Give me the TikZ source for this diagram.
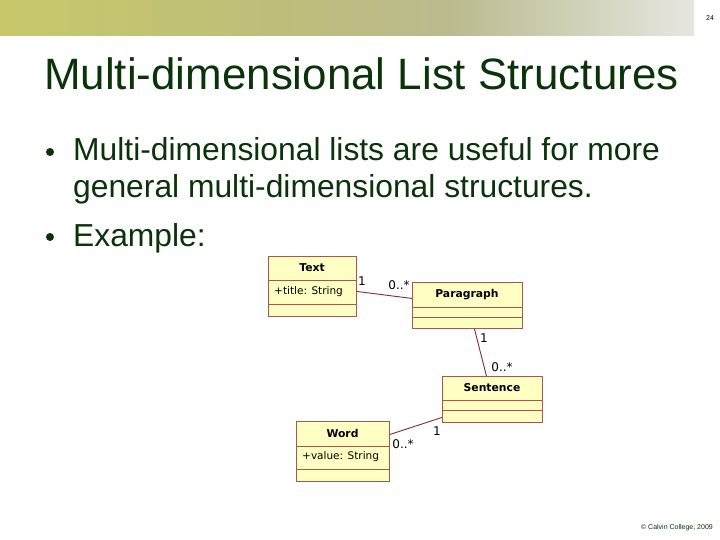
\documentclass[tikz,border=0pt]{standalone}
\usepackage{fontspec}
\setmainfont{Liberation Sans}
\newfontfamily\umlfont{DejaVu Sans}
\definecolor{slidegreen}{HTML}{0A330A}
\definecolor{umlfill}{HTML}{FFFFC4}
\definecolor{umledge}{HTML}{A8584A}
\definecolor{umlline}{HTML}{8A2A2A}
\definecolor{barA}{HTML}{C8C86A}
\definecolor{barB}{HTML}{BDBD7C}
\definecolor{barC}{HTML}{BABA8E}
\definecolor{barD}{HTML}{E6E6E0}
\tikzset{
  umlbox/.style={draw=umledge, fill=umlfill, line width=0.9pt, inner sep=0pt, minimum width=#1},
  sep/.style={draw=umledge, line width=0.9pt},
  umlname/.style={font=\umlfont\bfseries\fontsize{10.8}{12}\selectfont, text=black, inner sep=0pt},
  umlattr/.style={font=\umlfont\fontsize{10.5}{12}\selectfont, text=black, inner sep=0pt, anchor=west},
  mult/.style={font=\umlfont\fontsize{12}{14}\selectfont, text=black, inner sep=0pt},
  assoc/.style={draw=umlline, line width=0.9pt},
  bodytext/.style={font=\fontsize{31.8}{36}\selectfont, text=slidegreen, inner sep=0pt, anchor=base west},
  bulletdot/.style={circle, fill=slidegreen, inner sep=0pt, minimum size=8pt}
}
\begin{document}
\begin{tikzpicture}[x=1pt,y=-1pt]
\useasboundingbox (0,0) rectangle (720,540);
\fill[white] (0,0) rectangle (720,540);
% header bar
\shade[left color=barA, right color=barB] (0,0) rectangle (300.5,36);
\shade[left color=barB, right color=barC] (300,0) rectangle (450.5,36);
\shade[left color=barC, right color=barD] (450,0) rectangle (694,36);
\node[font=\fontsize{7}{8}\selectfont, inner sep=0pt] (pagenum) at (710,18) {24};
% title
\node[font=\fontsize{43.9}{48}\selectfont, text=slidegreen, inner sep=0pt, anchor=base west] (title) at (44,90) {Multi-dimensional List Structures};
% bullets
\node[bulletdot] (b1) at (50,152) {};
\node[bodytext] (t1) at (73,161) {Multi-dimensional lists are useful for more};
\node[bodytext] (t2) at (73,197) {general multi-dimensional structures.};
\node[bulletdot] (b2) at (50,237) {};
\node[bodytext] (t3) at (73,246) {Example:};
% UML: Text
\node[umlbox=88pt, minimum height=60pt, anchor=north west] (textc) at (268,256) {};
\draw[sep] (268,280) -- (356,280);
\draw[sep] (268,304) -- (356,304);
\node[umlname] (textn) at (312,268) {Text};
\node[umlattr] (texta) at (274,292) {+title: String};
% UML: Paragraph
\node[umlbox=110pt, minimum height=46pt, anchor=north west] (para) at (412,282) {};
\draw[sep] (412,307) -- (522,307);
\draw[sep] (412,317) -- (522,317);
\node[umlname] (paran) at (467,295) {Paragraph};
% UML: Sentence
\node[umlbox=100pt, minimum height=46pt, anchor=north west] (sent) at (442,376) {};
\draw[sep] (442,400) -- (542,400);
\draw[sep] (442,410) -- (542,410);
\node[umlname] (sentn) at (492,388) {Sentence};
% UML: Word
\node[umlbox=93pt, minimum height=60pt, anchor=north west] (word) at (296,421) {};
\draw[sep] (296,446) -- (389,446);
\draw[sep] (296,469) -- (389,469);
\node[umlname] (wordn) at (342.5,433) {Word};
\node[umlattr] (worda) at (302,457) {+value: String};
% associations
\draw[assoc] ([yshift=-5pt]textc.east) -- ([yshift=7pt]para.west);
\draw[assoc] ([xshift=7pt]para.south) -- ([xshift=-6pt]sent.north);
\draw[assoc] ([yshift=17pt]word.east) -- ([yshift=-18pt]sent.west);
% multiplicities
\node[mult] (m1) at (362,281) {1};
\node[mult] (m2) at (399,285) {0..*};
\node[mult] (m3) at (484,338) {1};
\node[mult] (m4) at (502,367) {0..*};
\node[mult] (m5) at (437,431) {1};
\node[mult] (m6) at (403,444) {0..*};
% footer
\node[font=\fontsize{7}{8}\selectfont, text=slidegreen, inner sep=0pt, anchor=east] (copy) at (713,528) {© Calvin College, 2009};
\end{tikzpicture}
\end{document}
